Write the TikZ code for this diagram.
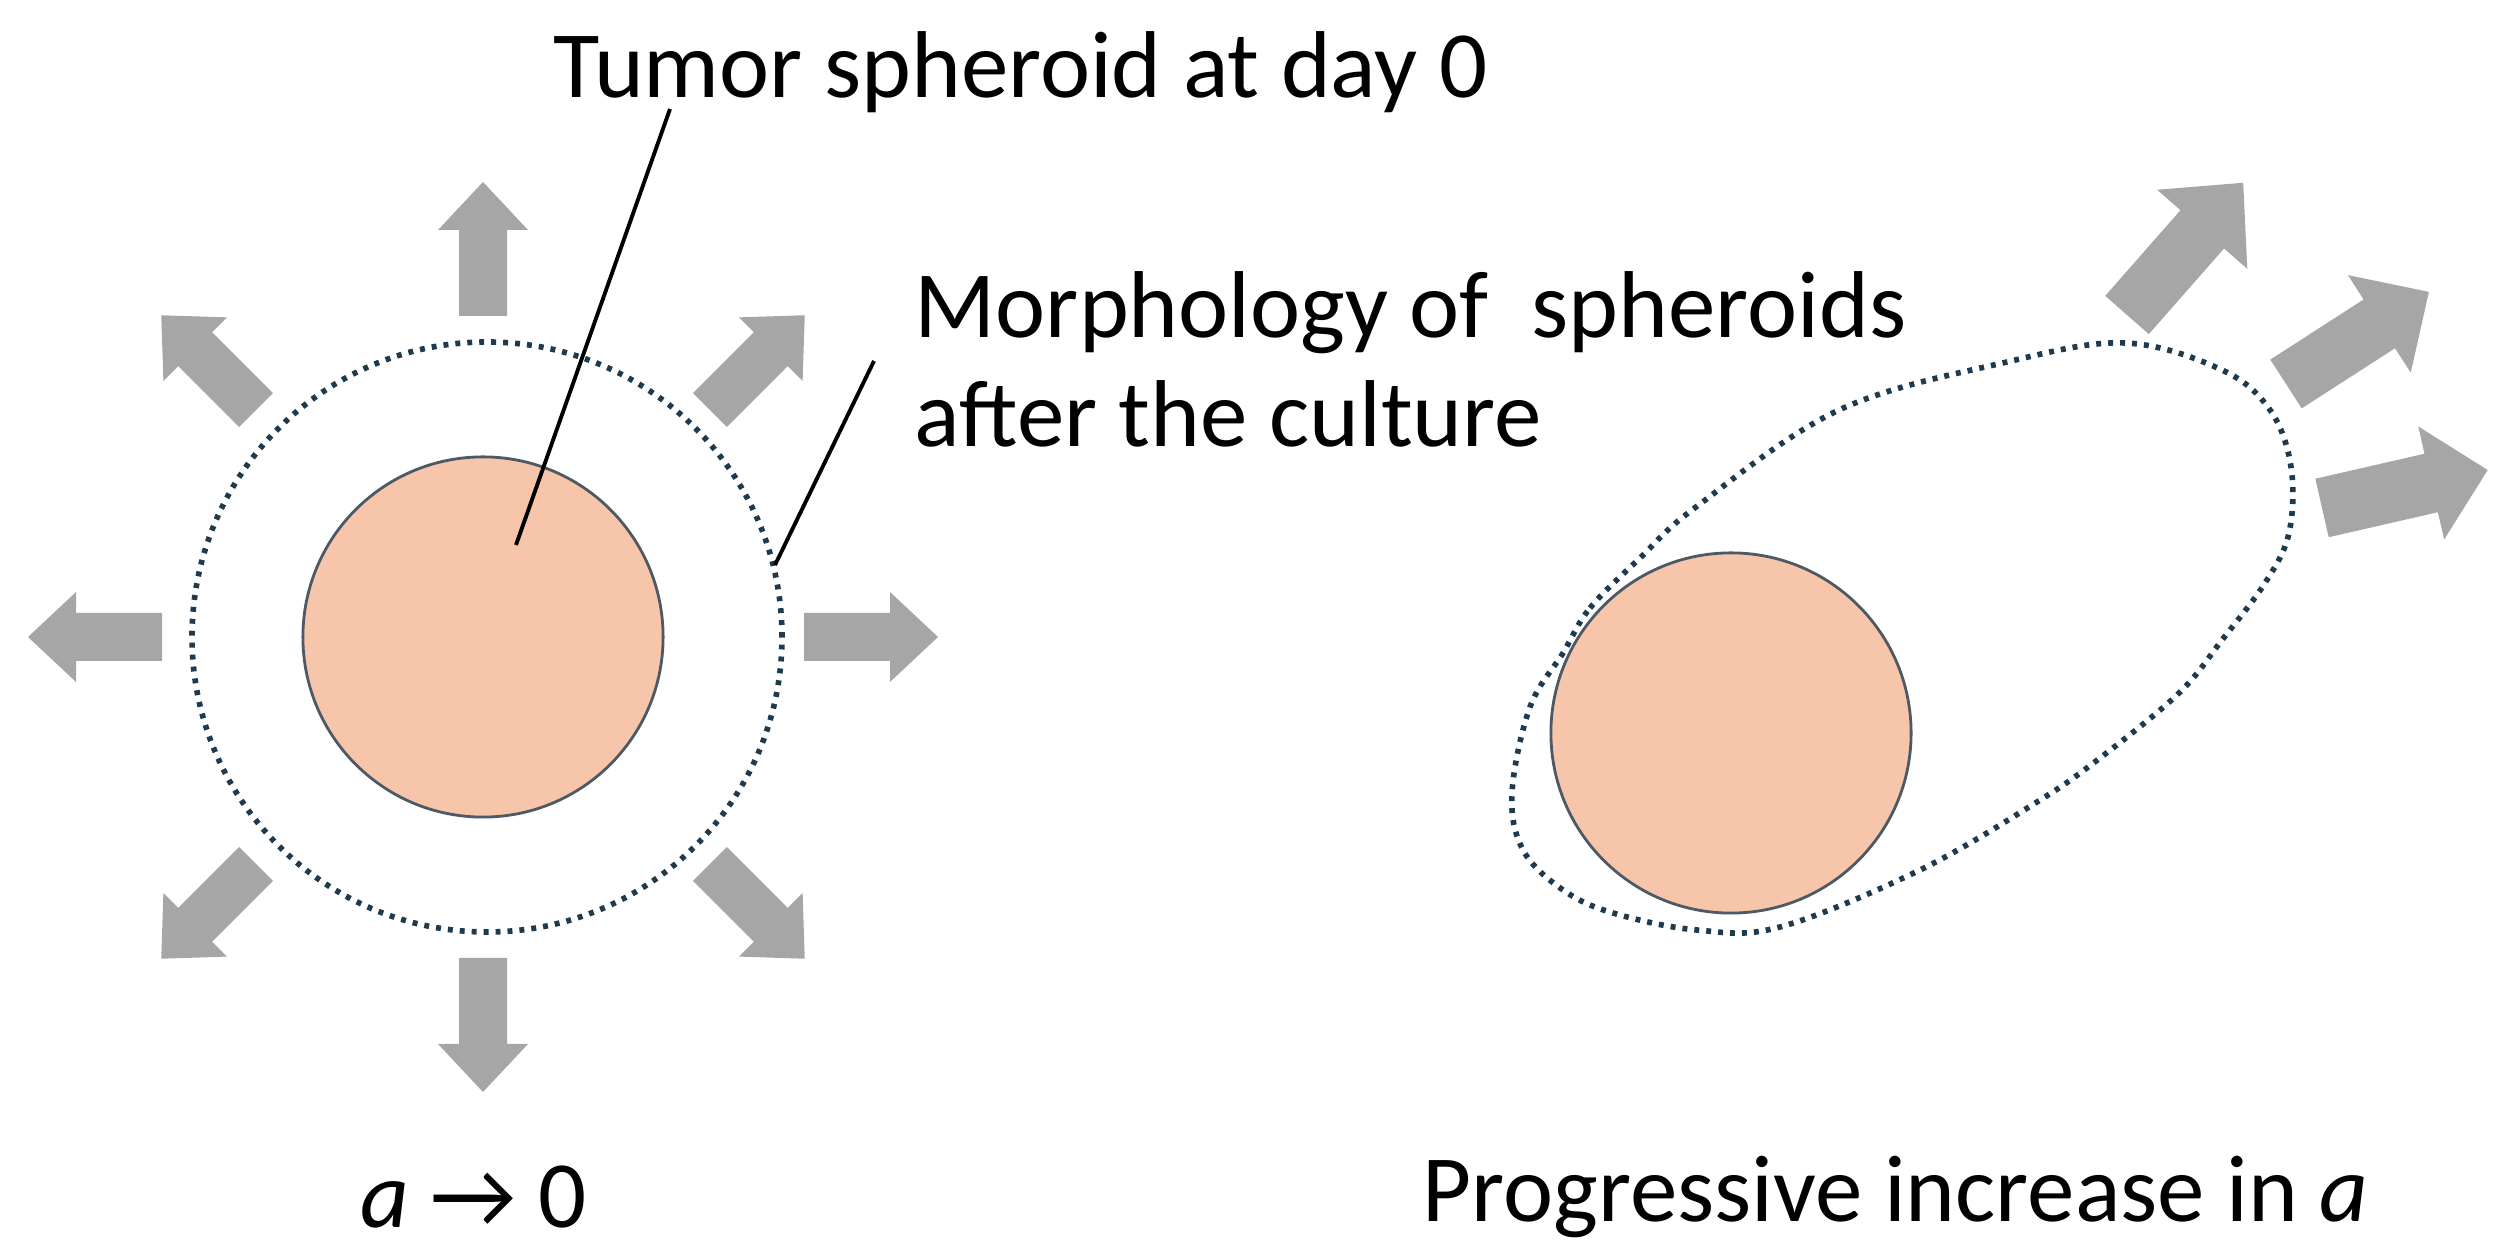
\documentclass[tikz,border=0pt]{standalone}
\usepackage{fontspec}
\setmainfont{Carlito}
\usepackage{tikz}
\usetikzlibrary{positioning}
\definecolor{corefill}{HTML}{F6C5AA}
\definecolor{coreline}{HTML}{4D5A66}
\definecolor{rimline}{HTML}{1E3A4E}
\definecolor{growgray}{HTML}{A6A6A6}
% block arrow: centre, angle, from radius, to radius, shaft half, head half, head length
\newcommand{\growarrow}[7]{%
  \fill[growth, shift={#1}, rotate=#2]
    (#3,-#5) -- ({#4-#7},-#5) -- ({#4-#7},-#6) -- (#4,0)
    -- ({#4-#7},#6) -- ({#4-#7},#5) -- (#3,#5) -- cycle;}

\begin{document}
\begin{tikzpicture}[
  x=0.01cm, y=0.01cm,
  font=\fontsize{27}{31}\selectfont,
  core/.style={circle, draw=coreline, line width=0.8pt, fill=corefill,
               minimum size=3.6cm, inner sep=0pt},
  rim/.style={draw=rimline, line width=1.6pt, dash pattern=on 1.4pt off 2pt},
  growth/.style={fill=growgray},
  lead/.style={draw=black, line width=1.1pt},
  lbl/.style={inner sep=0pt, anchor=west, align=left},
]
\useasboundingbox (0,0) rectangle (2515,1258);
% isotropic growth (left)
\foreach \ang in {0,45,...,315}
  \growarrow{(483,621)}{\ang}{321}{455}{24}{45}{48};
\draw[rim] (487,621) circle (295);
\node[core] (core1) at (483,621) {};
% directed growth (right)
\growarrow{(2127,943)}{48.7}{0}{176}{29}{60}{62}
\growarrow{(2286,874)}{32.8}{0}{170}{29}{58}{59}
\growarrow{(2322,750)}{12.9}{0}{170}{30}{58}{58}
\draw[rim] plot[smooth cycle, tension=0.6] coordinates {
  (1563,605) (1590,650) (1640,700) (1696,751) (1839,848) (2007,896)
  (2125,915) (2222,888) (2270,848) (2291,791) (2289,725) (2265,675)
  (2222,618) (2179,565) (2100,500) (2037,456) (1920,388) (1780,331)
  (1697,328) (1613,345) (1563,368) (1523,408) (1512,465) (1530,551)};
\node[core] (core2) at (1731,525) {};
% labels
\node[lbl] (tumor) at (553,1186) {Tumor spheroid at day 0};
\node[lbl] (morph) at (914,899) {Morphology of\ \ spheroids\\after the culture};
\node[lbl] (iso) at (360,61) {\textit{a} → 0};
\node[lbl] (prog) at (1422,61) {Progressive increase in \textit{a}};
% leader lines
\coordinate (tumorpt) at (516,713);
\coordinate (tumortop) at (670,1149);
\coordinate (rimpt) at (775,693);
\coordinate (morphend) at (874,897);
\draw[lead] (tumorpt) -- (tumortop);
\draw[lead] (rimpt) -- (morphend);
\end{tikzpicture}
\end{document}
